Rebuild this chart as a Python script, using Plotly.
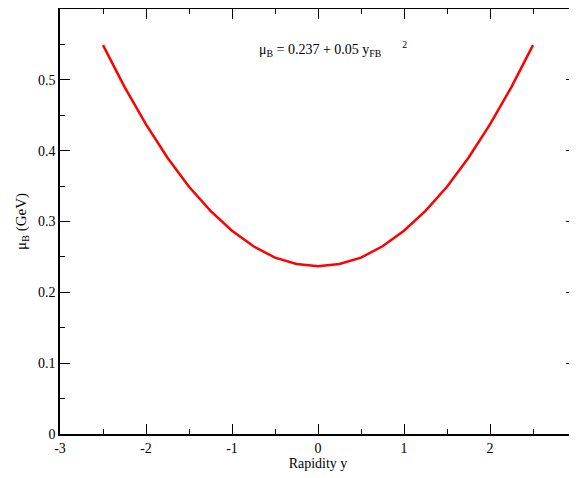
import plotly.graph_objects as go

rapidity = [-2.5, -2.25, -2.0, -1.75, -1.5, -1.25, -1.0, -0.75, -0.5, -0.25, 0.0,
            0.25, 0.5, 0.75, 1.0, 1.25, 1.5, 1.75, 2.0, 2.25, 2.5]
mu_b = [0.549, 0.490, 0.437, 0.390, 0.349, 0.315, 0.287, 0.265, 0.249, 0.240, 0.237,
        0.240, 0.249, 0.265, 0.287, 0.315, 0.349, 0.390, 0.437, 0.490, 0.549]

x_tickvals = [-3, -2, -1, 0, 1, 2, 3]
x_ticktext = ["-3", "-2", "-1", "0", "1", "2", "3"]
y_tickvals = [0, 0.1, 0.2, 0.3, 0.4, 0.5]
y_ticktext = ["0", "0.1", "0.2", "0.3", "0.4", "0.5"]

font_family = "Liberation Serif, Times New Roman, serif"

fig = go.Figure()
fig.add_trace(go.Scatter(x=rapidity, y=mu_b, mode="lines",
                         line=dict(color="#ff0000", width=2.5), showlegend=False))

axis_common = dict(
    showgrid=False, zeroline=False, showline=True, linecolor="black", linewidth=1.5,
    mirror="allticks", ticks="inside", ticklen=10, tickwidth=1.2, tickcolor="black",
    tickfont=dict(family=font_family, size=14, color="black"), automargin=False,
)

fig.update_xaxes(range=[-3, 3], tickmode="array", tickvals=x_tickvals, ticktext=x_ticktext,
                 minor=dict(tickmode="linear", tick0=0, dtick=0.5, ticklen=5, tickwidth=1.2,
                            tickcolor="black", ticks="inside"),
                 title=dict(text="Rapidity y", font=dict(family=font_family, size=14, color="black"), standoff=4),
                 **axis_common)
fig.update_yaxes(range=[0, 0.6], tickmode="array", tickvals=y_tickvals, ticktext=y_ticktext,
                 minor=dict(tickmode="linear", tick0=0, dtick=0.05, ticklen=5, tickwidth=1.2,
                            tickcolor="black", ticks="inside"),
                 title=dict(text="μ<sub>B</sub> (GeV)", font=dict(family=font_family, size=15, color="black"), standoff=8),
                 **axis_common)

fig.add_annotation(x=-0.71, y=0.543, xref="x", yref="y", showarrow=False, xanchor="left",
                   text="μ<sub>B</sub> = 0.237 + 0.05 y<sub>FB</sub>&nbsp;&nbsp;&nbsp;&nbsp;&nbsp;&nbsp;<sup>2</sup>",
                   font=dict(family=font_family, size=14, color="black"))

# page body adds an 8px offset; figure sized/margined to land the frame where the reference has it
fig.update_layout(width=569, height=470,
                  margin=dict(l=52, r=1, t=1, b=44, autoexpand=False),
                  plot_bgcolor="white", paper_bgcolor="white")

fig.write_html("out.html")
